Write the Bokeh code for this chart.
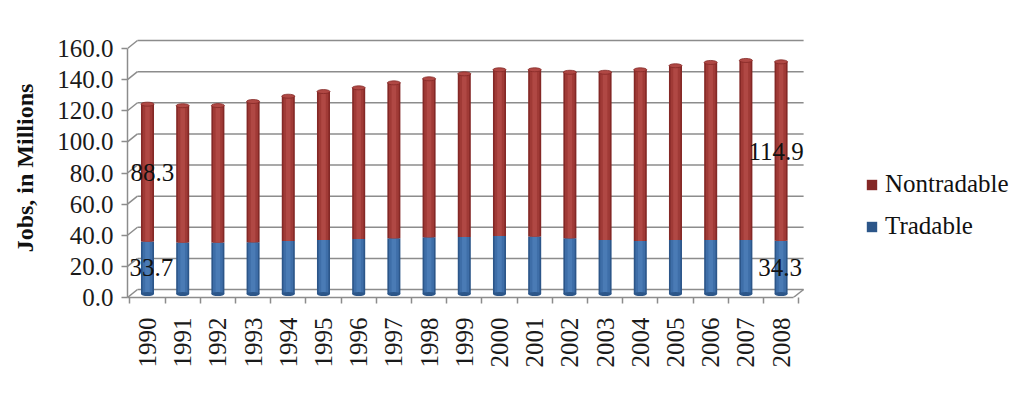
import math
from bokeh.plotting import figure
from bokeh.models import (Range1d, LinearAxis, FixedTicker, PrintfTickFormatter,
                          Legend, LegendItem, ColumnDataSource)
from bokeh.core.properties import value
from bokeh.embed import file_html
from bokeh.resources import INLINE

years = ["1990", "1991", "1992", "1993", "1994", "1995", "1996", "1997", "1998", "1999",
         "2000", "2001", "2002", "2003", "2004", "2005", "2006", "2007", "2008"]
tradable = [33.7, 33.1, 33.1, 33.3, 34.1, 34.7, 35.4, 35.8, 36.4, 36.6,
            37.2, 36.9, 35.8, 34.7, 34.1, 34.7, 34.7, 34.7, 34.3]
nontradable = [88.3, 87.9, 88.0, 90.4, 93.0, 95.4, 97.1, 99.9, 101.9, 104.9,
               106.9, 107.2, 106.7, 107.8, 110.0, 112.0, 114.1, 115.4, 114.9]
y_ticks = [0, 20, 40, 60, 80, 100, 120, 140, 160]
labelled = [0, 18]  # first and last year carry value labels

FONT = "Liberation Serif"
GRID = "#8c8c8c"
RED, RED_D, RED_L = "#a03a36", "#842826", "#b04844"
BLUE, BLUE_D, BLUE_L = "#3e6ea8", "#2c5689", "#4a7bb5"

# 3D-look offsets (in value units of the bar scale)
AX_SHIFT = -2.25    # front axis sits lower than bars
WALL_SHIFT = 2.89   # back wall sits higher than bars
X_LEFT, X_RIGHT = -0.568, 24.66   # frame extends right to hold the legend
WALL_LEFT, WALL_RIGHT = -0.284, 18.64
FLOOR_RIGHT = 18.35

p = figure(width=1020, height=390, output_backend="svg", toolbar_location=None,
           x_range=Range1d(X_LEFT, X_RIGHT), y_range=Range1d(-2.25, 164.2),
           x_axis_location=None, y_axis_location=None,
           min_border_left=127, min_border_right=5, min_border_top=38,
           min_border_bottom=93)
p.outline_line_color = None
p.grid.visible = False
p.background_fill_color = "white"
p.border_fill_color = "white"

# axis range for the front y axis
p.extra_y_ranges = {"ax": Range1d(0, 166.45)}
yax = LinearAxis(y_range_name="ax", ticker=FixedTicker(ticks=y_ticks),
                 formatter=PrintfTickFormatter(format="%.1f"), bounds=(0, 160))
yax.axis_label = "Jobs, in Millions"
yax.axis_label_text_font = FONT
yax.axis_label_text_font_style = "bold"
yax.axis_label_text_font_size = "24px"
yax.axis_label_text_color = "#111111"
yax.axis_label_standoff = 16
yax.major_label_text_font = FONT
yax.major_label_text_font_size = "25px"
yax.major_label_text_color = "#1a1a1a"
yax.major_label_standoff = 8
yax.axis_line_color = GRID
yax.axis_line_width = 1.5
yax.major_tick_line_color = GRID
yax.major_tick_line_width = 1.5
yax.major_tick_in = 0
yax.major_tick_out = 6
yax.minor_tick_line_color = None
p.add_layout(yax, "left")

xs = list(range(len(years)))
xax = LinearAxis(ticker=FixedTicker(ticks=xs, minor_ticks=[i - 0.5 for i in xs] + [len(xs) - 0.5]),
                 bounds=(X_LEFT, FLOOR_RIGHT))
xax.major_label_overrides = {i: y for i, y in enumerate(years)}
xax.major_label_orientation = math.pi / 2
xax.major_label_text_font = FONT
xax.major_label_text_font_size = "25px"
xax.major_label_text_color = "#1a1a1a"
xax.major_label_standoff = 14
xax.major_tick_line_color = None
xax.minor_tick_line_color = GRID
xax.minor_tick_line_width = 1.5
xax.minor_tick_in = 0
xax.minor_tick_out = 6
xax.axis_line_color = GRID
xax.axis_line_width = 1.5
p.add_layout(xax, "below")

# back wall gridlines and side-wall diagonals
wall_y = [v + WALL_SHIFT for v in y_ticks]
p.segment(x0=[WALL_LEFT] * len(y_ticks), x1=[WALL_RIGHT] * len(y_ticks),
          y0=wall_y, y1=wall_y, line_color=GRID, line_width=1.5)
p.segment(x0=[X_LEFT] * len(y_ticks), x1=[WALL_LEFT] * len(y_ticks),
          y0=[v + AX_SHIFT for v in y_ticks], y1=wall_y, line_color=GRID, line_width=1.5)
p.segment(x0=[FLOOR_RIGHT], x1=[WALL_RIGHT], y0=[AX_SHIFT], y1=[WALL_SHIFT],
          line_color=GRID, line_width=1.5)

totals = [t + n for t, n in zip(tradable, nontradable)]
src = ColumnDataSource(dict(x=xs, t=tradable, n=nontradable, tot=totals,
                            zero=[0] * len(xs)))

W = 0.37
# cylinders: dark edge, main body, light core
r_blue = p.vbar(x="x", bottom="zero", top="t", width=W, source=src,
                fill_color=BLUE_D, line_color=None)
p.vbar(x="x", bottom="zero", top="t", width=W * 0.75, source=src,
       fill_color=BLUE, line_color=None)
p.vbar(x="x", bottom="zero", top="t", width=W * 0.35, source=src,
       fill_color=BLUE_L, line_color=None)
p.ellipse(x="x", y="zero", width=13, height=4, width_units="screen", height_units="screen",
          source=src, fill_color=BLUE_D, line_color=None)

r_red = p.vbar(x="x", bottom="t", top="tot", width=W, source=src,
               fill_color=RED_D, line_color=None)
p.vbar(x="x", bottom="t", top="tot", width=W * 0.75, source=src,
       fill_color=RED, line_color=None)
p.vbar(x="x", bottom="t", top="tot", width=W * 0.35, source=src,
       fill_color=RED_L, line_color=None)
p.ellipse(x="x", y="tot", width=13, height=4, width_units="screen", height_units="screen",
          source=src, fill_color=RED_L, line_color=RED_D, line_width=0.8)

# value labels on first and last bars
lx = [xs[i] for i in labelled]
p.text(x=lx, y=[tradable[i] / 2 for i in labelled],
       text=["%.1f" % tradable[i] for i in labelled],
       text_font=value(FONT), text_font_size="25px", text_color="#111111",
       text_align="center", text_baseline="middle", x_offset=[4, -1])
p.text(x=lx, y=[tradable[i] + nontradable[i] / 2 for i in labelled],
       text=["%.1f" % nontradable[i] for i in labelled],
       text_font=value(FONT), text_font_size="25px", text_color="#111111",
       text_align="center", text_baseline="middle", x_offset=[5, -5])

legend = Legend(items=[LegendItem(label="Nontradable", renderers=[r_red]),
                       LegendItem(label="Tradable", renderers=[r_blue])],
                location=(738, 57))
legend.label_text_font = FONT
legend.label_text_font_size = "25px"
legend.label_text_color = "#111111"
legend.glyph_width = 13
legend.glyph_height = 13
legend.label_standoff = 7
legend.label_height = 20
legend.spacing = 14
legend.padding = 0
legend.margin = 0
legend.border_line_color = None
legend.background_fill_alpha = 0
p.add_layout(legend, "center")

open("out.html", "w").write(file_html(p, INLINE))
